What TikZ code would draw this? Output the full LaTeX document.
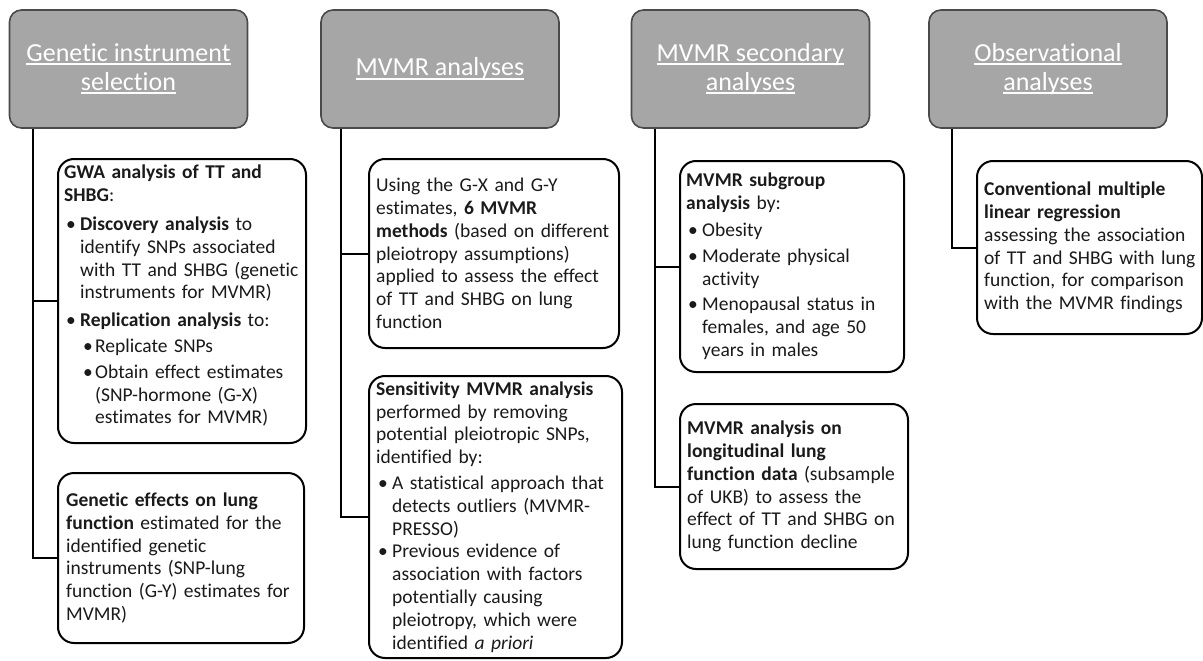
\documentclass[tikz,border=0pt]{standalone}
\usepackage{fontspec}
\setmainfont{Carlito}[RawFeature={-liga;-dlig;-clig}]
\definecolor{hdrfill}{HTML}{A6A6A6}
\definecolor{hdrline}{HTML}{4A4A4A}
\definecolor{bodytext}{HTML}{1A1A1A}
\newcommand\hul[1]{\setbox0\hbox{#1}\rlap{\rule[-4pt]{\wd0}{2pt}}\box0}
\newcommand\bl{\makebox[16pt][l]{\hspace*{2pt}•}}
\newcommand\sbl{\makebox[12pt][l]{•}}
\begin{document}
\begin{tikzpicture}[x=1pt,y=-1pt,
  hdrbox/.style={draw=hdrline, fill=hdrfill, line width=1.6pt, rounded corners=12pt,
    minimum width=238pt, minimum height=118pt, text=white, align=center,
    font=\fontsize{26}{29}\selectfont, inner sep=4pt},
  txtbox/.style={draw=black, line width=2pt, rounded corners=16pt, anchor=north west,
    inner sep=0pt},
  txt/.style={anchor=west, align=left, inner sep=0pt, text width=300pt, text=bodytext,
    font=\fontsize{19.5}{22.8}\selectfont},
  conn/.style={draw=black, line width=2pt}]
\useasboundingbox (0,0) rectangle (1203,661);
\fill[white] (0,0) rectangle (1203,661);

% headers
\node[hdrbox] (h1) at (128.5,69) {\hul{Genetic instrument}\\\hul{selection}};
\node[hdrbox] (h2) at (440,69) {\hul{MVMR analyses}};
\node[hdrbox] (h3) at (750.5,69) {\hul{MVMR secondary}\\\hul{analyses}};
\node[hdrbox] (h4) at (1048,69) {\hul{Observational}\\\hul{analyses}};

% column 1
\node[txtbox, minimum width=248pt, minimum height=284pt] (b1a) at (57,158) {};
\node[txt] (t1a) at ([xshift=7pt,yshift=5pt]b1a.west) {%
\textbf{GWA analysis of TT and}\\
\textbf{SHBG}:\\[6pt]
\bl\textbf{Discovery analysis} to\\
\hspace*{16pt}identify SNPs associated\\
\hspace*{16pt}with TT and SHBG (genetic\\
\hspace*{16pt}instruments for MVMR)\\[5pt]
\bl\textbf{Replication analysis} to:\\[3pt]
\hspace*{19pt}\sbl Replicate SNPs\\[3pt]
\hspace*{19pt}\sbl Obtain effect estimates\\
\hspace*{31pt}(SNP-hormone (G-X)\\
\hspace*{31pt}estimates for MVMR)};

\node[txtbox, minimum width=246pt, minimum height=170pt] (b1b) at (57,472) {};
\node[txt] (t1b) at ([xshift=9pt]b1b.west) {%
\textbf{Genetic effects on lung}\\
\textbf{function} estimated for the\\
identified genetic\\
instruments (SNP-lung\\
function (G-Y) estimates for\\
MVMR)};

% column 2
\node[txtbox, minimum width=250pt, minimum height=189pt] (b2a) at (368,158) {};
\node[txt] (t2a) at ([xshift=8pt]b2a.west) {%
Using the G-X and G-Y\\
estimates, \textbf{6 MVMR}\\
\textbf{methods} (based on different\\
pleiotropy assumptions)\\
applied to assess the effect\\
of TT and SHBG on lung\\
function};

\node[txtbox, minimum width=253pt, minimum height=282pt] (b2b) at (368,375) {};
\node[txt] (t2b) at ([xshift=8pt]b2b.west) {%
\textbf{Sensitivity MVMR analysis}\\
performed by removing\\
potential pleiotropic SNPs,\\
identified by:\\[3pt]
\bl A statistical approach that\\
\hspace*{16pt}detects outliers (MVMR-\\
\hspace*{16pt}PRESSO)\\
\bl Previous evidence of\\
\hspace*{16pt}association with factors\\
\hspace*{16pt}potentially causing\\
\hspace*{16pt}pleiotropy, which were\\
\hspace*{16pt}identified \textit{a priori}};

% column 3
\node[txtbox, minimum width=224pt, minimum height=211pt] (b3a) at (679,160) {};
\node[txt] (t3a) at ([xshift=7pt]b3a.west) {%
\textbf{MVMR subgroup}\\
\textbf{analysis} by:\\[4pt]
\bl Obesity\\[3pt]
\bl Moderate physical\\
\hspace*{16pt}activity\\[3pt]
\bl Menopausal status in\\
\hspace*{16pt}females, and age 50\\
\hspace*{16pt}years in males};

\node[txtbox, minimum width=228pt, minimum height=165pt] (b3b) at (679,403) {};
\node[txt] (t3b) at ([xshift=8pt]b3b.west) {%
\textbf{MVMR analysis on}\\
\textbf{longitudinal lung}\\
\textbf{function data} (subsample\\
of UKB) to assess the\\
effect of TT and SHBG on\\
lung function decline};

% column 4
\node[txtbox, minimum width=225pt, minimum height=173pt] (b4) at (976,160) {};
\node[txt] (t4) at ([xshift=8pt]b4.west) {%
\textbf{Conventional multiple}\\
\textbf{linear regression}\\
assessing the association\\
of TT and SHBG with lung\\
function, for comparison\\
with the MVMR findings};

% connectors
\coordinate (c1) at ([xshift=24pt]h1.south west);
\coordinate (c2) at ([xshift=21pt]h2.south west);
\coordinate (c3) at ([xshift=24pt]h3.south west);
\coordinate (c4) at ([xshift=24pt]h4.south west);
\draw[conn] (c1) |- (b1a.west);
\draw[conn] (c1) |- (b1b.west);
\draw[conn] (c2) |- (b2a.west);
\draw[conn] (c2) |- (b2b.west);
\draw[conn] (c3) |- (b3a.west);
\draw[conn] (c3) |- (b3b.west);
\draw[conn] (c4) |- (b4.west);
\end{tikzpicture}
\end{document}
